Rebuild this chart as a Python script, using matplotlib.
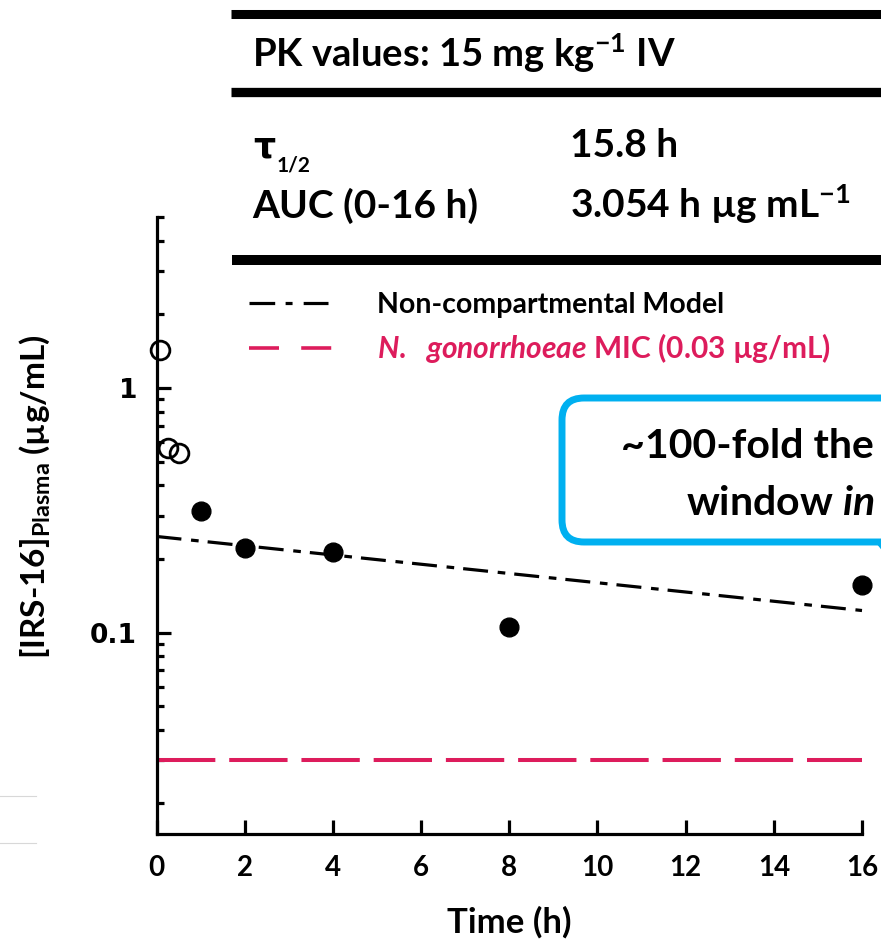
import matplotlib
matplotlib.use('Agg')
import matplotlib.pyplot as plt
from matplotlib.lines import Line2D
from matplotlib.patches import FancyBboxPatch, Polygon
from matplotlib.ticker import LogLocator, NullFormatter

# sampled plasma concentrations (ug/mL)
time_open = [0.083, 0.25, 0.5]
conc_open = [1.43, 0.57, 0.54]
time_filled = [1, 2, 4, 8, 16]
conc_filled = [0.314, 0.222, 0.214, 0.105, 0.156]

# non-compartmental model fit and MIC line
model_time = [0, 16]
model_conc = [0.247, 0.123]
mic_time = [0, 16]
mic_conc = [0.03, 0.03]

x_ticks = [0, 2, 4, 6, 8, 10, 12, 14, 16]
y_ticks = [0.1, 1]
y_tick_labels = ['0.1', '1']

RED = '#DD1C5C'
BLUE = '#00B0F0'

plt.rcParams['font.family'] = ['Lato', 'DejaVu Sans']
plt.rcParams['font.weight'] = 'bold'
plt.rcParams['mathtext.fontset'] = 'custom'
plt.rcParams['mathtext.rm'] = 'Lato:bold'
plt.rcParams['mathtext.bf'] = 'Lato:bold'
plt.rcParams['mathtext.it'] = 'Lato:bold:italic'
plt.rcParams['lines.scale_dashes'] = False

W, H = 881, 941
fig = plt.figure(figsize=(W / 100, H / 100), dpi=100)
ax = fig.add_axes([156.5 / W, 1 - 834 / H, (862 - 156.5) / W, (834 - 217) / H])
T = fig.dpi_scale_trans


def px(x, y):
    # pixel position (from top-left) -> inches for dpi_scale_trans
    return x / 100, (H - y) / 100


# --- plot ---
ax.plot(mic_time, mic_conc, color=RED, lw=2.9, ls=(0, (42, 10)), zorder=2)
ax.plot(model_time, model_conc, color='black', lw=2.3,
        ls=(0, (18, 7, 5.5, 6.5)), zorder=2, clip_on=False)
ax.plot(time_filled, conc_filled, 'o', color='black', ms=13.5,
        zorder=4, clip_on=False)
ax.plot(time_open, conc_open, 'o', mfc='none', mec='black', mew=2,
        ms=13.5, zorder=4, clip_on=False)

ax.set_yscale('log')
ax.set_xlim(0, 16)
ax.set_ylim(0.015, 5)
ax.set_xticks(x_ticks)
ax.set_yticks(y_ticks, labels=y_tick_labels)
ax.yaxis.set_minor_locator(LogLocator(base=10, subs=range(2, 10)))
ax.yaxis.set_minor_formatter(NullFormatter())

for s in ['top', 'right']:
    ax.spines[s].set_visible(False)
for s in ['left', 'bottom']:
    ax.spines[s].set_linewidth(2.3)

ax.tick_params(which='major', direction='in', length=10, width=2.3)
ax.tick_params(which='minor', direction='in', length=5, width=2.3)
ax.tick_params(axis='x', pad=15, labelsize=20)
ax.tick_params(axis='y', pad=14)
for lab in ax.get_yticklabels():
    lab.set_fontfamily('DejaVu Sans')
    lab.set_fontsize(19)
    lab.set_fontweight('bold')

fig.text(*px(509, 933), 'Time (h)', transform=T, ha='center',
         va='baseline', fontsize=25)
fig.text(*px(35, 497), r'[IRS-16]$_{\mathregular{Plasma}}$ (µg/mL)',
         transform=T, ha='center', va='center', rotation=90, fontsize=24)

# --- PK table ---
for y, x0, lw in [(13.5, 230.5, 6.5), (92, 230.5, 6.7), (260, 232, 7.2)]:
    fig.add_artist(Line2D([x0 / 100, 9.5], [(H - y) / 100] * 2,
                          transform=T, color='black', lw=lw,
                          solid_capstyle='butt'))

fig.text(*px(251.6, 66.7), r'PK values: 15 mg kg$^{\mathregular{-1}}$ IV',
         transform=T, va='baseline', fontsize=27.5)
fig.text(*px(253, 158), 'τ', transform=T, va='baseline', fontsize=25,
         family='DejaVu Sans')
fig.text(*px(277, 171), '1/2', transform=T, va='baseline', fontsize=15)
fig.text(*px(570, 157), '15.8 h', transform=T, va='baseline', fontsize=28)
fig.text(*px(252, 218), 'AUC (0-16 h)', transform=T, va='baseline',
         fontsize=28)
fig.text(*px(570, 218), r'3.054 h µg mL$^{\mathregular{-1}}$', transform=T,
         va='baseline', fontsize=28)

# --- legend ---
fig.add_artist(Line2D([2.49, 3.28], [(H - 302.7) / 100] * 2, transform=T,
                      color='black', lw=2.3, ls=(0, (18.5, 7.5, 5, 8))))
fig.add_artist(Line2D([2.49, 3.32], [(H - 347.7) / 100] * 2, transform=T,
                      color=RED, lw=2.6, ls=(0, (21.6, 16))))
fig.text(*px(377, 313), 'Non-compartmental Model', transform=T,
         va='baseline', fontsize=20.5)
fig.text(*px(377, 358), r'$\mathit{N.\ \ gonorrhoeae}$ MIC (0.03 µg/mL)',
         transform=T, va='baseline', fontsize=21.5, color=RED)

# --- callout box ---
box = FancyBboxPatch(px(562, 542), 3.9, 1.44,
                     boxstyle='round,pad=0,rounding_size=0.22',
                     transform=T, fc='white', ec=BLUE, lw=5)
fig.add_artist(box)
fig.add_artist(Polygon([px(876, 542), px(884, 542), px(884, 552)],
                       closed=True, transform=T, fc=BLUE, ec=BLUE))
fig.text(*px(621, 458), '~100-fold the', transform=T, va='baseline',
         fontsize=29.5)
fig.text(*px(686, 515), r'window $\mathit{in}$', transform=T,
         va='baseline', fontsize=29.5)

# faint crop marks at far left
for y in [796, 843]:
    fig.add_artist(Line2D([0, 0.36], [(H - y) / 100] * 2, transform=T,
                          color='#d8d8d8', lw=0.8))

fig.savefig('out.png', dpi=100)
